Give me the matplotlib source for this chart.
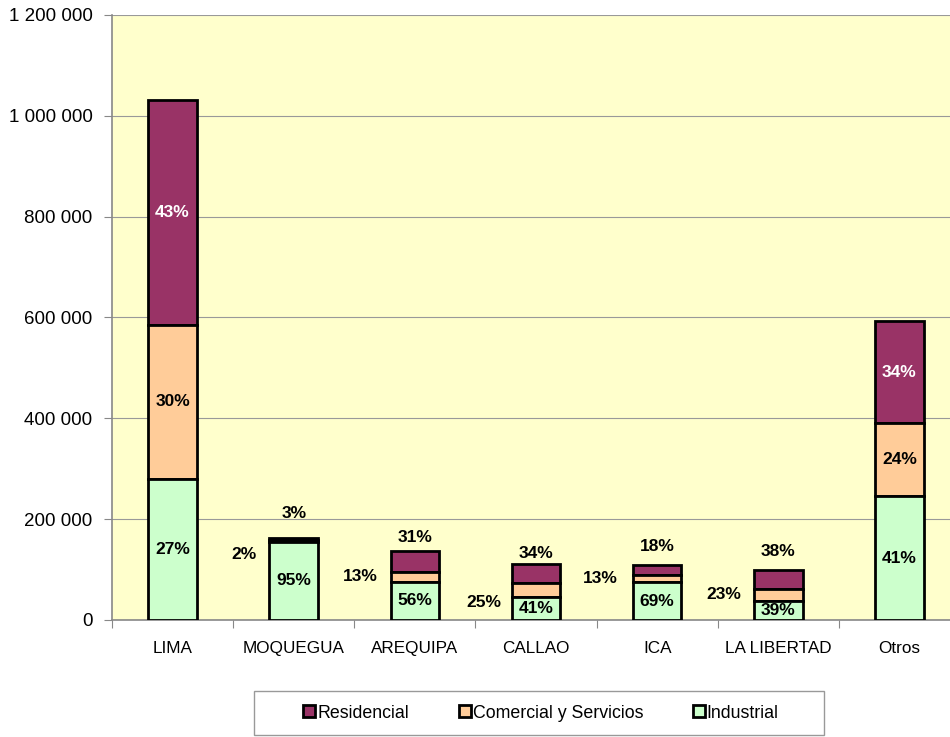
import matplotlib
matplotlib.use("Agg")
import matplotlib.pyplot as plt
from matplotlib.patches import Rectangle
from matplotlib.ticker import FuncFormatter, MultipleLocator
import numpy as np

plt.rcParams["font.family"] = ["Liberation Sans", "DejaVu Sans"]

regions = ["LIMA", "MOQUEGUA", "AREQUIPA", "CALLAO", "ICA", "LA LIBERTAD", "Otros"]
industrial = [280000, 155000, 76000, 46000, 75000, 38500, 245000]
comercial = [305000, 3300, 19000, 27500, 13500, 22500, 145000]
residencial = [446000, 4900, 42000, 38500, 20000, 38000, 203000]

pct_industrial = ["27%", "95%", "56%", "41%", "69%", "39%", "41%"]
pct_comercial = ["30%", "2%", "13%", "25%", "13%", "23%", "24%"]
pct_residencial = ["43%", "3%", "31%", "34%", "18%", "38%", "34%"]

series_names = ["Residencial", "Comercial y Servicios", "Industrial"]
colors = {"Residencial": "#993366", "Comercial y Servicios": "#FFCC99", "Industrial": "#CCFFCC"}

# label placement (pixels) for bars too small to hold their labels
inside = [True, False, False, False, False, False, True]
com_offsets = [(0, 0), (-50, -13), (-55, 0), (-52, -13), (-57, 0), (-54, 0), (0, 0)]
res_offsets = [(0, 0), (0, 24), (0, 13), (0, 10), (0, 19), (0, 19), (0, 0)]

fig = plt.figure(figsize=(9.5, 7.37), dpi=100)
ax = fig.add_axes([112 / 950, 1 - 620 / 737, 848 / 950, 605 / 737])
ax.set_facecolor("#FFFFCC")

x = np.arange(len(regions))
ind = np.array(industrial)
com = np.array(comercial)
res = np.array(residencial)
w = 0.40

b_res = ax.bar(x, res, w, bottom=ind + com, color=colors["Residencial"], edgecolor="black", linewidth=2, label="Residencial", zorder=3)
b_com = ax.bar(x, com, w, bottom=ind, color=colors["Comercial y Servicios"], edgecolor="black", linewidth=2, label="Comercial y Servicios", zorder=3)
b_ind = ax.bar(x, ind, w, color=colors["Industrial"], edgecolor="black", linewidth=2, label="Industrial", zorder=3)

fs = 12.5
for i in range(len(regions)):
    ax.text(x[i], ind[i] / 2, pct_industrial[i], ha="center", va="center", fontsize=fs, fontweight="bold", zorder=4)
    ymid_c = ind[i] + com[i] / 2
    ymid_r = ind[i] + com[i] + res[i] / 2
    if inside[i]:
        ax.text(x[i], ymid_c, pct_comercial[i], ha="center", va="center", fontsize=fs, fontweight="bold", zorder=4)
        ax.text(x[i], ymid_r, pct_residencial[i], ha="center", va="center", fontsize=fs, fontweight="bold", color="white", zorder=4)
    else:
        ax.annotate(pct_comercial[i], (x[i], ymid_c), xytext=com_offsets[i], textcoords="offset pixels",
                    ha="center", va="center", fontsize=fs, fontweight="bold", zorder=4)
        top = ind[i] + com[i] + res[i]
        ax.annotate(pct_residencial[i], (x[i], top), xytext=res_offsets[i], textcoords="offset pixels",
                    ha="center", va="center", fontsize=fs, fontweight="bold", zorder=4)

ax.set_xlim(-0.5, len(regions) - 0.5)
ax.set_ylim(0, 1200000)
ax.yaxis.set_major_locator(MultipleLocator(200000))
ax.yaxis.set_major_formatter(FuncFormatter(lambda v, p: f"{int(v):,}".replace(",", " ")))
ax.grid(axis="y", color="#999999", linewidth=0.8, zorder=0)

ax.set_xticks(np.arange(len(regions) + 1) - 0.5)
ax.set_xticklabels([])
ax.set_xticks(x, minor=True)
ax.set_xticklabels(regions, minor=True)
ax.tick_params(axis="x", which="major", length=6, color="#888888", direction="out")
ax.tick_params(axis="x", which="minor", length=0, pad=15, labelsize=12.3)
ax.tick_params(axis="y", length=6, color="#888888", labelsize=13.5, pad=8)

for side in ["top", "right"]:
    ax.spines[side].set_visible(False)
for side in ["left", "bottom"]:
    ax.spines[side].set_color("#888888")
    ax.spines[side].set_linewidth(1.2)

# legend frame drawn separately (wide side padding as in the source)
fig.patches.append(Rectangle((254 / 950, 1 - 735 / 737), 570 / 950, 44 / 737, transform=fig.transFigure,
                             facecolor="white", edgecolor="#999999", linewidth=1.0, zorder=4))
handles = [b_res, b_com, b_ind]
leg = fig.legend(handles, series_names, loc="center", bbox_to_anchor=(541 / 950, 1 - 713 / 737), ncol=3,
                 fontsize=12.8, frameon=False,
                 handlelength=0.67, handleheight=0.67, handletextpad=0.11, columnspacing=2.8,
                 borderpad=0.0)
leg.set_zorder(5)

fig.savefig("out.png", dpi=100)
